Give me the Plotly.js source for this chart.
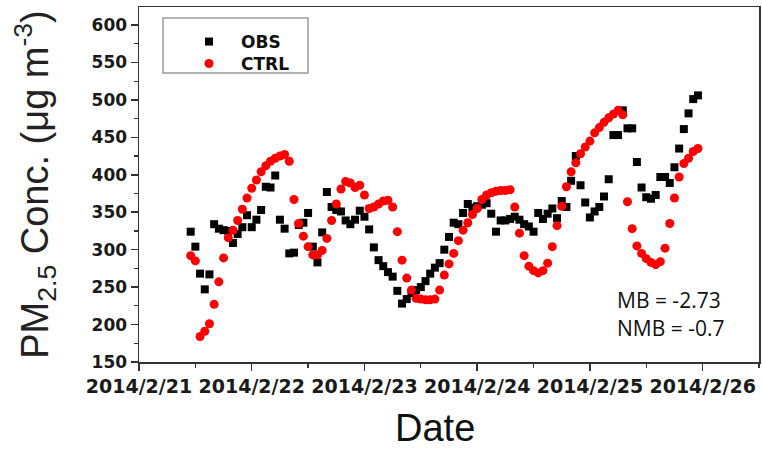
<!DOCTYPE html>
<html>
<head>
<meta charset="utf-8">
<script src="https://cdn.plot.ly/plotly-3.0.1.min.js"></script>
<style>
  html, body { margin: 0; padding: 0; background: #ffffff; }
  #chart { width: 762px; height: 452px; }
</style>
</head>
<body>
<div id="chart"></div>
<script>
// ---- Data (hourly) ----
const seriesNames = ["OBS", "CTRL"];
const firstTime = "2014-02-21T11:00:00Z";   // first hourly record
const stepHours = 1;

const obsValues = [
  324, 304, 268, 247, 267, 334, 328, 326, 325, 309,
  321, 330, 346, 330, 340, 353, 384, 383, 399, 340,
  328, 295, 296, 333, 336, 349, 304, 283, 323, 377,
  357, 353, 351, 339, 334, 340, 352, 344, 327, 303,
  286, 278, 270, 264, 245, 228, 234, 242, 246, 250,
  258, 268, 276, 282, 300, 317, 336, 334, 349, 361,
  356, 358, 360, 362, 348, 324, 339, 339, 341, 344,
  340, 334, 331, 324, 349, 341, 348, 355, 342, 365,
  357, 392, 425, 386, 363, 343, 351, 357, 371, 394,
  453, 453, 486, 462, 462, 417, 383, 370, 368, 373,
  397, 397, 389, 410, 435, 461, 482, 501, 506
];

const ctrlValues = [
  292, 285, 184, 191, 201, 227, 257, 289, 316, 326,
  339, 354, 369, 382, 393, 404, 412, 418, 422, 425,
  427, 418, 367, 335, 318, 304, 293, 293, 299, 315,
  339, 361, 381, 391, 389, 383, 386, 373, 355, 357,
  361, 365, 366, 357, 324, 286, 262, 246, 235, 234,
  233, 233, 234, 246, 266, 281, 295, 312, 326, 336,
  347, 355, 367, 373, 376, 378, 379, 379, 380, 357,
  322, 292, 278, 272, 269, 272, 282, 304, 332, 358,
  384, 404, 416, 428, 437, 445, 456, 463, 470, 476,
  481, 486, 480, 364, 328, 305, 295, 288, 283, 280,
  284, 302, 335, 369, 397, 415, 422, 431, 435
];

const statsLines = ["MB = -2.73", "NMB = -0.7"];

// ---- Build hourly timestamps for the records ----
function hourlyTimes(startIso, n, step) {
  const t0 = Date.parse(startIso);
  const out = [];
  for (let i = 0; i < n; i++) {
    const d = new Date(t0 + i * step * 3600000);
    out.push(d.toISOString().slice(0, 19).replace("T", " "));
  }
  return out;
}
const obsTimes = hourlyTimes(firstTime, obsValues.length, stepHours);
const ctrlTimes = hourlyTimes(firstTime, ctrlValues.length, stepHours);

// ---- Geometry helpers (plot area in pixels) ----
const W = 762, H = 452;
const L = 139, R = 759, T = 7, B = 362;
const px2paperX = x => (x - L) / (R - L);
const px2paperY = y => (B - y) / (B - T);

const tickFont = { family: "DejaVu Sans", size: 17, color: "#1a1a1a", weight: "bold" };
const legendFont = { family: "DejaVu Sans", size: 17, color: "#111111", weight: "bold" };

const traces = [
  {
    x: obsTimes, y: obsValues, name: seriesNames[0],
    type: "scatter", mode: "markers", legend: "legend",
    marker: { symbol: "square", size: 8, color: "#000000" }
  },
  {
    x: ctrlTimes, y: ctrlValues, name: seriesNames[1],
    type: "scatter", mode: "markers", legend: "legend2",
    marker: { symbol: "circle", size: 9, color: "#ff0000" }
  }
];

const axisLine = { showline: true, linecolor: "#333333", linewidth: 1.5, mirror: true };

function legendAt(topPx) {
  return {
    x: px2paperX(177), y: px2paperY(topPx),
    xanchor: "left", yanchor: "top",
    bgcolor: "rgba(0,0,0,0)", borderwidth: 0,
    itemwidth: 54, tracegroupgap: 0,
    font: legendFont
  };
}

const layout = {
  width: W, height: H,
  margin: { l: L, r: W - R, t: T, b: H - B, pad: 0 },
  paper_bgcolor: "#ffffff", plot_bgcolor: "#ffffff",
  showlegend: true,
  xaxis: Object.assign({}, axisLine, {
    type: "date",
    range: ["2014-02-21 00:00:00", "2014-02-26 12:00:00"],
    tick0: "2014-02-21", dtick: 86400000,
    tickformat: "%Y/%-m/%-d",
    ticks: "outside", ticklen: 7, tickwidth: 1.5, tickcolor: "#333333",
    minor: { ticks: "outside", ticklen: 4, tickwidth: 1.2, tickcolor: "#333333", dtick: 43200000, showgrid: false },
    showgrid: false, zeroline: false,
    tickfont: Object.assign({}, tickFont, { size: 19 })
  }),
  yaxis: Object.assign({}, axisLine, {
    range: [150, 624],
    tick0: 150, dtick: 50,
    ticks: "outside", ticklen: 7, tickwidth: 1.5, tickcolor: "#333333",
    minor: { ticks: "outside", ticklen: 4, tickwidth: 1.2, tickcolor: "#333333", dtick: 25, showgrid: false },
    showgrid: false, zeroline: false,
    tickfont: tickFont,
    title: {
      text: "PM<sub>2.5</sub> Conc. (μg m<sup>-3</sup>)",
      font: { family: "Liberation Sans", size: 38, color: "#222222" },
      standoff: 31
    }
  }),
  legend: legendAt(24),
  legend2: legendAt(46),
  shapes: [
    {
      type: "rect", xref: "paper", yref: "paper",
      x0: px2paperX(163), x1: px2paperX(308),
      y0: px2paperY(73), y1: px2paperY(18),
      line: { color: "#9a9a9a", width: 1.5 }, fillcolor: "rgba(0,0,0,0)",
      layer: "above"
    }
  ],
  annotations: [
    {
      text: "Date", xref: "paper", yref: "paper",
      x: px2paperX(435), y: px2paperY(428),
      xanchor: "center", yanchor: "middle", showarrow: false,
      font: { family: "Liberation Sans", size: 38, color: "#111111" }
    },
    {
      text: statsLines[0], xref: "paper", yref: "paper",
      x: px2paperX(615), y: px2paperY(300),
      xanchor: "left", yanchor: "middle", showarrow: false,
      font: { family: "Open Sans", size: 21, color: "#111111" }
    },
    {
      text: statsLines[1], xref: "paper", yref: "paper",
      x: px2paperX(615), y: px2paperY(328),
      xanchor: "left", yanchor: "middle", showarrow: false,
      font: { family: "Open Sans", size: 21, color: "#111111" }
    }
  ]
};

Plotly.newPlot("chart", traces, layout, { displayModeBar: false, staticPlot: true });
</script>
</body>
</html>
